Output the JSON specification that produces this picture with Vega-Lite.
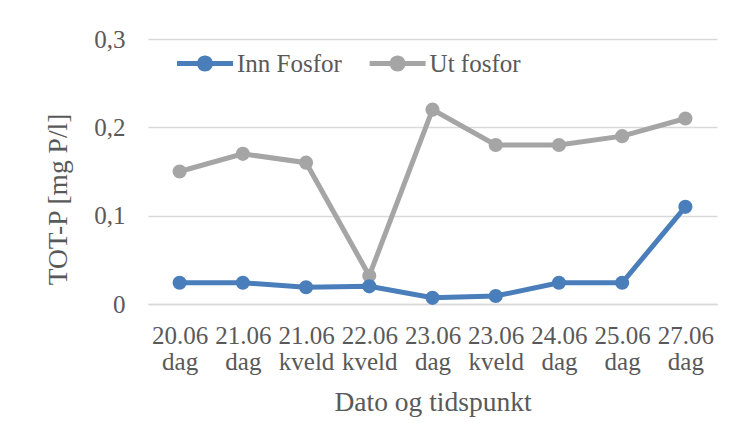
{
  "$schema": "https://vega.github.io/schema/vega-lite/v6.json",
  "width": 569,
  "height": 265,
  "autosize": {"type": "none"},
  "padding": {"left": 148, "top": 39, "right": 18, "bottom": 122},
  "background": "white",
  "config": {
    "view": {"stroke": null},
    "font": "Liberation Serif",
    "axis": {"labelFont": "Liberation Serif", "titleFont": "Liberation Serif", "labelColor": "#595959", "titleColor": "#595959", "labelFontSize": 25, "titleFontSize": 27.5, "titleFontWeight": "normal", "ticks": false}
  },
  "data": {"values": [
    {"tid": "20.06 dag", "serie": "Ut fosfor", "verdi": 0.15},
    {"tid": "21.06 dag", "serie": "Ut fosfor", "verdi": 0.17},
    {"tid": "21.06 kveld", "serie": "Ut fosfor", "verdi": 0.16},
    {"tid": "22.06 kveld", "serie": "Ut fosfor", "verdi": 0.032},
    {"tid": "23.06 dag", "serie": "Ut fosfor", "verdi": 0.22},
    {"tid": "23.06 kveld", "serie": "Ut fosfor", "verdi": 0.18},
    {"tid": "24.06 dag", "serie": "Ut fosfor", "verdi": 0.18},
    {"tid": "25.06 dag", "serie": "Ut fosfor", "verdi": 0.19},
    {"tid": "27.06 dag", "serie": "Ut fosfor", "verdi": 0.21},
    {"tid": "20.06 dag", "serie": "Inn Fosfor", "verdi": 0.024},
    {"tid": "21.06 dag", "serie": "Inn Fosfor", "verdi": 0.024},
    {"tid": "21.06 kveld", "serie": "Inn Fosfor", "verdi": 0.019},
    {"tid": "22.06 kveld", "serie": "Inn Fosfor", "verdi": 0.02},
    {"tid": "23.06 dag", "serie": "Inn Fosfor", "verdi": 0.007},
    {"tid": "23.06 kveld", "serie": "Inn Fosfor", "verdi": 0.009},
    {"tid": "24.06 dag", "serie": "Inn Fosfor", "verdi": 0.024},
    {"tid": "25.06 dag", "serie": "Inn Fosfor", "verdi": 0.024},
    {"tid": "27.06 dag", "serie": "Inn Fosfor", "verdi": 0.11}
  ]},
  "encoding": {
    "x": {
      "field": "tid", "type": "nominal", "sort": null,
      "scale": {"paddingInner": 0, "paddingOuter": 0.5},
      "axis": {
        "title": "Dato og tidspunkt", "labelAngle": 0,
        "labelExpr": "split(datum.label, ' ')", "labelLineHeight": 26,
        "labelBaseline": "top", "labelPadding": 19,
        "domainColor": "#d9d9d9", "domainWidth": 1.5,
        "grid": false,
        "titleX": 284.5, "titleY": 106, "titleBaseline": "alphabetic", "titleAnchor": null, "titleAlign": "center"
      }
    },
    "y": {
      "field": "verdi", "type": "quantitative",
      "scale": {"domain": [0, 0.3], "nice": false},
      "axis": {
        "title": "TOT-P [mg P/l]", "values": [0, 0.1, 0.2, 0.3],
        "labelExpr": "datum.value == 0 ? '0' : replace(format(datum.value, '.1f'), '.', ',')",
        "labelPadding": 23, "domain": false,
        "gridColor": "#d9d9d9", "gridWidth": 1.5,
        "titleX": -82, "titleY": 160, "titleBaseline": "alphabetic", "titleAngle": -90, "titleAlign": "center"
      }
    },
    "color": {
      "field": "serie", "type": "nominal", "sort": ["Inn Fosfor", "Ut fosfor"],
      "scale": {"domain": ["Inn Fosfor", "Ut fosfor"], "range": ["#4A7EBB", "#A5A5A5"]},
      "legend": {
        "title": null, "orient": "none", "direction": "horizontal",
        "legendX": 29, "legendY": -3.5, "padding": 0,
        "symbolType": "M-1,-0.089L1,-0.089L1,0.089L-1,0.089Z M-0.286,0A0.286,0.286,0,1,1,0.286,0A0.286,0.286,0,1,1,-0.286,0Z",
        "symbolSize": 3136, "symbolStrokeWidth": 0, "symbolOpacity": 1,
        "labelFont": "Liberation Serif", "labelFontSize": 25, "labelColor": "#595959",
        "labelOffset": 4, "columnPadding": 27.6,
        "encode": {"symbols": {"update": {"fill": {"scale": "color", "field": "value"}, "strokeWidth": {"value": 0}}}}
      }
    }
  },
  "layer": [
    {"mark": {"type": "line", "strokeWidth": 5}},
    {"mark": {"type": "point", "filled": true, "opacity": 1, "size": 200}}
  ]
}
